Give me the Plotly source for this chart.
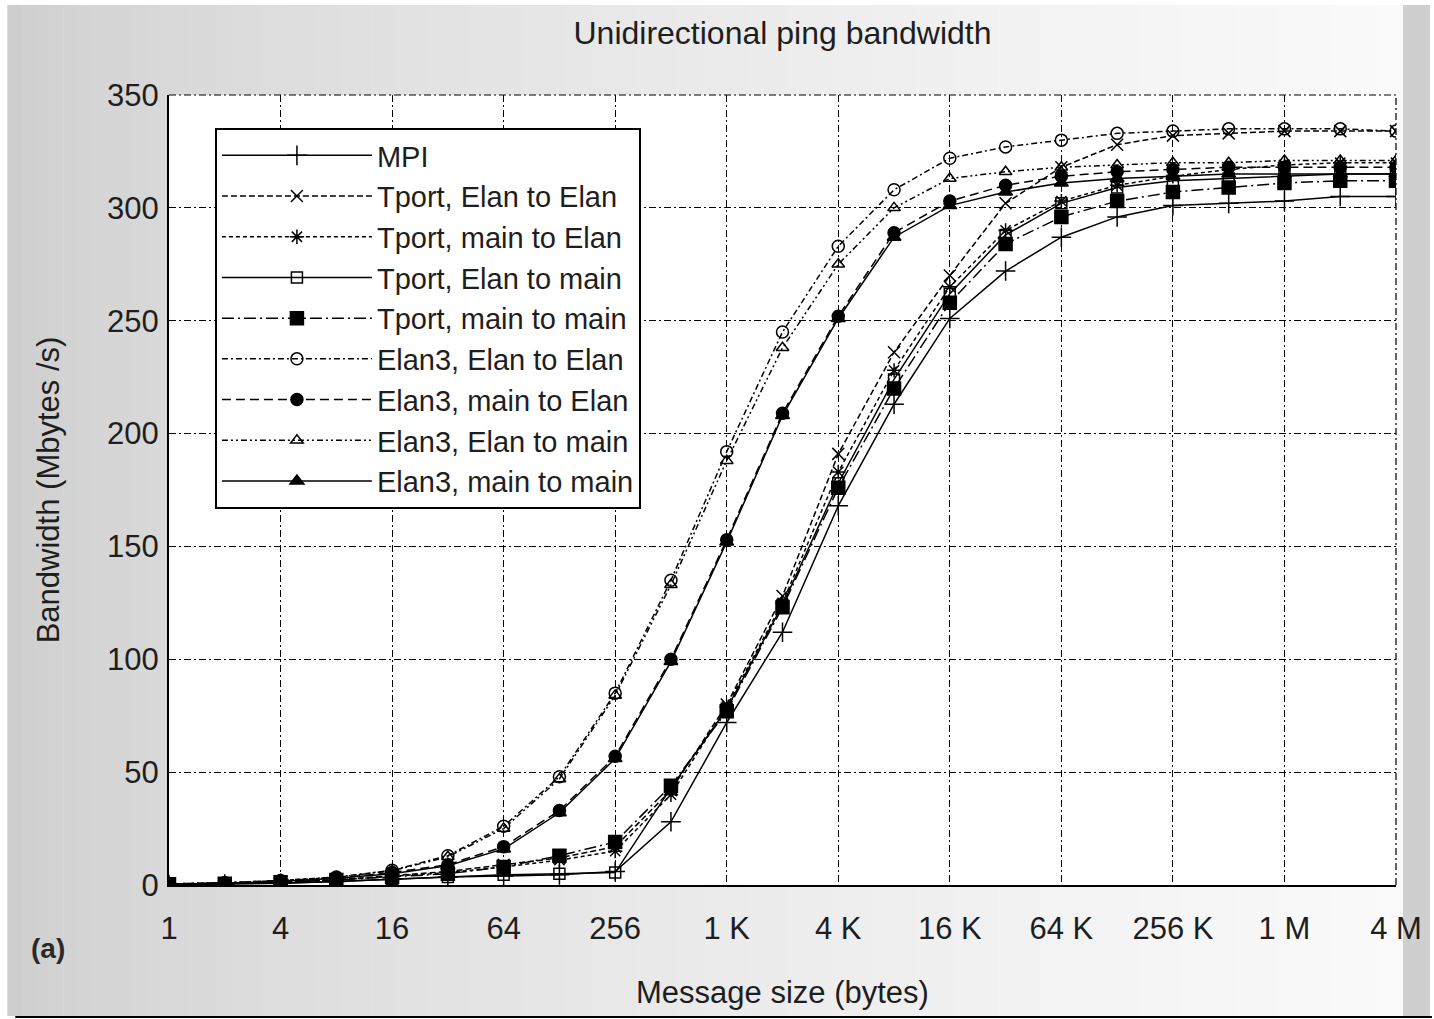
import plotly.graph_objects as go

# Message sizes: powers of two from 1 byte to 4 MB
sizes = [2 ** k for k in range(23)]

tick_vals = [4 ** k for k in range(12)]
tick_text = ["1", "4", "16", "64", "256", "1 K", "4 K", "16 K", "64 K", "256 K", "1 M", "4 M"]

# Bandwidth in Mbytes/s for each size
mpi = [0.2, 0.4, 0.8, 1.5, 2.5, 3.5, 4.0, 4.5, 6.0, 28, 72, 112, 168, 213, 251, 272, 287, 296, 301, 302, 303, 305, 305]
tport_elan_elan = [0.3, 0.6, 1.2, 2.3, 4.0, 6.0, 9.0, 12, 17, 42, 80, 128, 191, 236, 270, 302, 318, 328, 332, 333, 334, 334, 334]
tport_main_elan = [0.3, 0.6, 1.2, 2.2, 3.8, 5.5, 8.0, 11, 15, 40, 79, 125, 183, 228, 265, 290, 303, 310, 314, 317, 319, 320, 320]
tport_elan_main = [0.2, 0.4, 0.8, 1.5, 2.5, 3.5, 4.5, 5.0, 5.5, 43, 78, 124, 178, 224, 262, 288, 302, 309, 312, 313, 314, 315, 315]
tport_main_main = [0.3, 0.6, 1.2, 2.2, 3.5, 5.0, 8.0, 13, 19, 44, 77, 123, 176, 220, 258, 284, 296, 303, 307, 309, 311, 312, 312]
elan3_elan_elan = [0.5, 1.0, 2.0, 3.5, 6.5, 13, 26, 48, 85, 135, 192, 245, 283, 308, 322, 327, 330, 333, 334, 335, 335, 335, 334]
elan3_main_elan = [0.4, 0.9, 1.8, 3.0, 5.5, 9.0, 17, 33, 57, 100, 153, 209, 252, 289, 303, 310, 314, 316, 317, 318, 318, 318, 318]
elan3_elan_main = [0.5, 1.0, 2.0, 3.4, 6.3, 12.5, 25, 47, 84, 133, 188, 238, 275, 300, 313, 316, 318, 319, 320, 320, 321, 321, 321]
elan3_main_main = [0.4, 0.8, 1.6, 3.0, 5.0, 8.5, 16, 32, 56, 99, 152, 208, 251, 287, 301, 307, 311, 313, 314, 315, 315, 315, 315]

series = [
    ("MPI", mpi, "solid", "cross-thin-open", 14),
    ("Tport, Elan to Elan", tport_elan_elan, "6px,3px", "x-thin-open", 12),
    ("Tport, main to Elan", tport_main_elan, "4px,3px", "asterisk-open", 12),
    ("Tport, Elan to main", tport_elan_main, "solid", "square-open", 11),
    ("Tport, main to main", tport_main_main, "12px,4px,2px,4px", "square", 13),
    ("Elan3, Elan to Elan", elan3_elan_elan, "6px,3px,2px,3px", "circle-open", 12),
    ("Elan3, main to Elan", elan3_main_elan, "9px,5px", "circle", 12),
    ("Elan3, Elan to main", elan3_elan_main, "6px,3px,2px,3px,2px,3px", "triangle-up-open", 11),
    ("Elan3, main to main", elan3_main_main, "solid", "triangle-up", 12),
]

fig = go.Figure()
for name, vals, dash, symbol, msize in series:
    fig.add_trace(go.Scatter(
        x=sizes, y=vals, name=name, mode="lines+markers",
        line=dict(color="black", width=1.5, dash=dash),
        marker=dict(symbol=symbol, size=msize, color="black",
                    line=dict(color="black", width=1.5)),
    ))

# Page geometry (pixels)
W, H = 1434, 1019
L, R, T, B = 169, 1398, 95, 885


def px_x(px):
    return (px - L) / (R - L)


def px_y(py):
    return (B - py) / (B - T)


grid_dash = "7px,3px,2px,3px"

# Grey horizontal gradient behind the figure
shapes = [dict(type="rect", xref="paper", yref="paper",
               x0=px_x(0), x1=px_x(W), y0=px_y(H), y1=px_y(0),
               fillcolor="white", line_width=0, layer="below")]
n_strips = 100
x_start, x_end = 7, 1405
for i in range(n_strips):
    a = x_start + (x_end - x_start) * i / n_strips
    b = x_start + (x_end - x_start) * (i + 1) / n_strips + 0.6
    t = (i + 0.5) / n_strips
    g = int(round(204 + 46 * t ** 0.6))
    shapes.append(dict(type="rect", xref="paper", yref="paper",
                       x0=px_x(a), x1=px_x(b), y0=px_y(1016), y1=px_y(5),
                       fillcolor=f"rgb({g},{g},{g})", line_width=0, layer="below"))
shapes.append(dict(type="rect", xref="paper", yref="paper",
                   x0=px_x(1405), x1=px_x(1432), y0=px_y(1016), y1=px_y(5),
                   fillcolor="rgb(207,207,207)", line_width=0, layer="below"))
shapes.append(dict(type="line", xref="paper", yref="paper",
                   x0=px_x(15), x1=px_x(W), y0=px_y(1017), y1=px_y(1017),
                   line=dict(color="black", width=2), layer="below"))
# White plotting area
shapes.append(dict(type="rect", xref="paper", yref="paper",
                   x0=0, x1=1, y0=0, y1=1,
                   fillcolor="white", line_width=0, layer="below"))
# Grid lines along the top and right edges of the plotting area
shapes.append(dict(type="line", xref="paper", yref="paper", x0=0, x1=1, y0=1, y1=1,
                   line=dict(color="black", width=1.2, dash=grid_dash), layer="below"))
shapes.append(dict(type="line", xref="paper", yref="paper", x0=1, x1=1, y0=0, y1=1,
                   line=dict(color="black", width=1.2, dash=grid_dash), layer="below"))

font_family = "Liberation Sans, Arial, sans-serif"
text_color = "#1e1e1e"

fig.update_layout(
    width=W, height=H,
    margin=dict(l=L, r=W - R, t=T, b=H - B),
    paper_bgcolor="white",
    plot_bgcolor="white",
    shapes=shapes,
    font=dict(family=font_family, color=text_color, size=31),
    title=dict(text="Unidirectional ping bandwidth", x=0.5, xref="paper",
               y=1 - 33 / H, yref="container", yanchor="middle", xanchor="center",
               font=dict(size=32, color=text_color)),
    xaxis=dict(
        type="log", range=[0, 22 * 0.30102999566], tickvals=tick_vals, ticktext=tick_text,
        showgrid=True, gridcolor="black", gridwidth=1.2, griddash=grid_dash,
        showline=True, linecolor="black", linewidth=2, ticks="",
        ticklabelstandoff=15, zeroline=False,
        title=dict(text="Message size (bytes)", standoff=36, font=dict(size=31)),
        tickfont=dict(size=31),
    ),
    yaxis=dict(
        range=[0, 350], tick0=0, dtick=50,
        showgrid=True, gridcolor="black", gridwidth=1.2, griddash=grid_dash,
        showline=True, linecolor="black", linewidth=2, ticks="",
        ticklabelstandoff=2, zeroline=False,
        title=dict(text="Bandwidth (Mbytes /s)", standoff=38, font=dict(size=31)),
        tickfont=dict(size=31),
    ),
    legend=dict(
        x=px_x(215), y=px_y(128), xanchor="left", yanchor="top",
        bgcolor="white", bordercolor="black", borderwidth=2,
        font=dict(size=29, color=text_color), itemwidth=150,
        tracegroupgap=0,
    ),
    showlegend=True,
    annotations=[dict(text="<b>(a)</b>", x=px_x(48), y=px_y(948), xref="paper", yref="paper",
                      showarrow=False, font=dict(size=28, color="#2a2a2a"),
                      xanchor="center", yanchor="middle")],
)

fig.write_html("out.html")
